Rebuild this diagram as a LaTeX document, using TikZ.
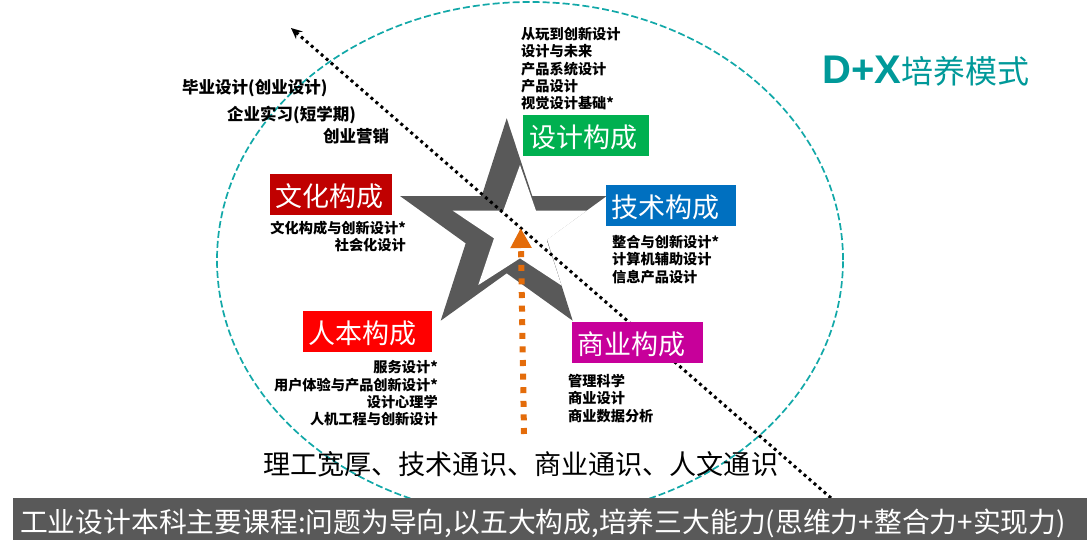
\documentclass[tikz,border=0pt]{standalone}
\usepackage{fontspec}
\setmainfont{Noto Sans CJK SC}
\newfontfamily\latinbold{Liberation Sans}
\usetikzlibrary{arrows.meta}
\definecolor{tealc}{HTML}{009999}
\definecolor{ringc}{HTML}{12A8A8}
\definecolor{stargray}{HTML}{595959}
\definecolor{orangec}{HTML}{E46C0A}
\definecolor{cdesign}{HTML}{00B050}
\definecolor{ctech}{HTML}{0070C0}
\definecolor{cbiz}{HTML}{C7009A}
\definecolor{cculture}{HTML}{C00000}
\definecolor{chuman}{HTML}{FF0000}
\tikzset{
  x=1pt,y=-1pt,
  blockbox/.style={inner xsep=6pt,inner ysep=0pt,minimum height=41pt,align=left,text=white,
    text height=26pt,text depth=2.4pt,font=\fontsize{27}{27}\selectfont},
  courselist/.style={inner sep=0pt,font=\fontsize{14.2}{17.3}\selectfont\bfseries},
  practice/.style={inner sep=0pt,anchor=west,font=\fontsize{16.5}{17}\selectfont\bfseries},
}
\begin{document}
\begin{tikzpicture}
\useasboundingbox (0,0) rectangle (1087,541);
% ring
\draw[ringc,line width=1.7pt,dash pattern=on 7pt off 3pt] (530,260) ellipse [x radius=313pt,y radius=258pt];
% star
\fill[stargray] (506.7,118.3)--(532.3,196)--(606.7,196)--(547,239.5)--(572.7,320.7)--(506.7,273.3)--(440.7,320.7)--(465.7,243.3)--(400,196)--(481.7,196)--cycle;
\fill[white] (520,165)--(536,210.7)--(586.7,210.7)--(546.7,240)--(561.5,285.5)--(520,258.3)--(478.3,285)--(494,238.3)--(452.7,210.7)--(503.3,210.7)--cycle;
% connectors
\coordinate (dotfrom) at (831,498);
\coordinate (dotto) at (291,28);
\coordinate (orfrom) at (524,434);
\coordinate (orto) at (520.7,228);
\draw[black,line width=3pt,dash pattern=on 3pt off 3.6pt,-{Stealth[length=11pt,width=10pt]}] (dotfrom)--(dotto);
\draw[orangec,line width=6pt,dash pattern=on 6pt off 7.6pt,-{Triangle[length=20pt,width=20pt]}] (orfrom)--(orto);
% boxes
\node[blockbox,fill=cdesign,text width=114pt] (design) at (586,135.5) {设计构成};
\node[blockbox,fill=ctech,text width=118pt] (tech) at (670.7,205.2) {技术构成};
\node[blockbox,fill=cbiz,text width=118.7pt] (biz) at (637.3,342.8) {商业构成};
\node[blockbox,fill=cculture,text width=109.7pt] (culture) at (330.8,194.5) {文化构成};
\node[blockbox,fill=chuman,text width=116.7pt] (human) at (367.3,331.2) {人本构成};
% course lists
\node[courselist,anchor=north west,align=left] (listdesign) at (521,27) {从玩到创新设计\\设计与未来\\产品系统设计\\产品设计\\视觉设计基础*};
\node[courselist,anchor=north west,align=left] (listtech) at (612,235) {整合与创新设计*\\计算机辅助设计\\信息产品设计};
\node[courselist,anchor=north west,align=left] (listbiz) at (568,374) {管理科学\\商业设计\\商业数据分析};
\node[courselist,anchor=north east,align=right] (listculture) at (406,221) {文化构成与创新设计*\\社会化设计};
\node[courselist,anchor=north east,align=right] (listhuman) at (438,360.5) {服务设计*\\用户体验与产品创新设计*\\设计心理学\\人机工程与创新设计};
% practice
\node[practice] (grad) at (182,88) {毕业设计(创业设计)};
\node[practice] (intern) at (227,115) {企业实习(短学期)};
\node[practice] (market) at (323,136) {创业营销};
% title
\node[inner sep=0pt,anchor=west,text=tealc] (title) at (822,71) {{\latinbold\bfseries\fontsize{40}{40}\selectfont D+X}{\fontsize{32}{32}\selectfont 培养模式}};
% bottom
\node[inner sep=0pt,anchor=west,font=\fontsize{27.1}{27}\selectfont] (basis) at (263,464) {理工宽厚、技术通识、商业通识、人文通识};
\node[fill=stargray,text=white,inner xsep=7pt,inner ysep=0pt,minimum height=42pt,align=left,text width=1060pt,text height=28pt,text depth=0.8pt,font=\fontsize{27.8}{28}\selectfont] (bar) at (550,519) {工业设计本科主要课程:问题为导向,以五大构成,培养三大能力(思维力+整合力+实现力)};
\end{tikzpicture}
\end{document}
